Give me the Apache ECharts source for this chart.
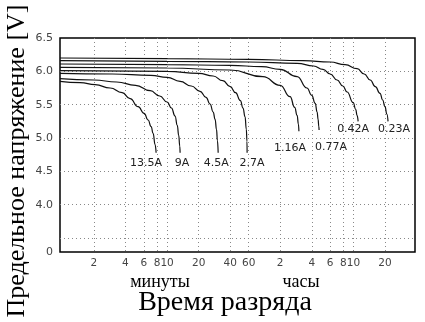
<!DOCTYPE html>
<html><head><meta charset="utf-8">
<script src="https://cdn.jsdelivr.net/npm/echarts@6/dist/echarts.min.js"></script>
<style>html,body{margin:0;padding:0;background:#fff}#c{width:425px;height:322px}</style>
</head><body><div id="c"></div>
<script>
// x: discharge time in minutes, y: cut-off voltage [V]
var curveNames = ['13.5A','9A','4.5A','2.7A','1.16A','0.77A','0.42A','0.23A'];
var c13_5A = [[0.95,5.85],[1.48,5.83],[2.06,5.80],[2.86,5.75],[3.72,5.68],[4.43,5.59],[5.29,5.47],[6.03,5.37],[6.59,5.27],[7.04,5.17],[7.35,5.07],[7.68,4.90],[7.85,4.78]];
var c9A = [[0.95,5.89],[2,5.87],[3.3,5.84],[5,5.79],[6.9,5.71],[8.5,5.63],[10,5.54],[11,5.45],[11.9,5.33],[12.5,5.19],[12.9,5.04],[13.2,4.88],[13.3,4.78]];
var c4_5A = [[0.95,5.97],[3,5.96],[7,5.94],[10,5.91],[13.3,5.85],[17,5.78],[20.6,5.70],[23.5,5.61],[25.7,5.51],[27.5,5.39],[28.7,5.28],[29.6,5.13],[30.2,4.96],[30.7,4.78]];
var c2_7A = [[0.95,6.01],[10,6.0],[20,5.97],[27.5,5.93],[34,5.86],[40,5.77],[45,5.68],[50,5.56],[53,5.45],[55.4,5.32],[57,5.13],[57.8,4.95],[58,4.78]];
var c1_16A = [[0.95,6.06],[10,6.05],[40,6.02],[82,5.92],[120,5.79],[149,5.62],[165,5.46],[174,5.34],[179,5.21],[181,5.10]];
var c0_77A = [[0.95,6.11],[10,6.10],[40,6.09],[80,6.07],[120,6.03],[174,5.92],[216,5.75],[240,5.64],[259,5.52],[270,5.39],[276,5.28],[280,5.18],[282,5.12]];
var c0_42A = [[0.95,6.16],[10,6.15],[60,6.14],[174,6.12],[250,6.08],[307,6.03],[360,5.96],[419,5.87],[475,5.78],[522,5.69],[597,5.53],[630,5.43],[650,5.34],[665,5.25]];
var c0_23A = [[0.95,6.2],[10,6.19],[60,6.18],[200,6.16],[359,6.14],[500,6.1],[650,6.04],[760,5.96],[867,5.87],[970,5.77],[1076,5.67],[1140,5.57],[1200,5.47],[1250,5.36],[1283,5.25]];
var curves = [c13_5A, c9A, c4_5A, c2_7A, c1_16A, c0_77A, c0_42A, c0_23A];

var xTickValues = [2,4,6,8,10,20,40,60,120,240,360,480,600,1200];
var xTickLabels = ['2','4','6','8','10','20','40','60','2','4','6','8','10','20'];
var yLabelValues = [3.29,4.0,4.5,5.0,5.5,6.0,6.5];
var yLabelTexts = ['0','4.0','4.5','5.0','5.5','6.0','6.5'];
var yGridValues = [3.5,4.0,4.5,5.0,5.5,6.0];

var labelOffsets = [[-10,10],[2,10],[-2,10],[5,10],[-9,17],[12,17],[-5,8],[6,8]];

var chart = echarts.init(document.getElementById('c'), null, {renderer:'canvas'});
var series = curves.map(function(d,i){
  var last = d[d.length-1];
  return {
    type:'line', name:curveNames[i], data:d, showSymbol:false, silent:true,
    smooth:0.5, smoothMonotone:'x',
    lineStyle:{color:'#111', width:1.2},
    markPoint:{
      symbol:'circle', symbolSize:0, silent:true, animation:false,
      data:[{coord:[last[0], last[1]], value:curveNames[i]}],
      label:{show:true, position:'inside', offset:labelOffsets[i], formatter:curveNames[i],
        fontFamily:'DejaVu Sans', fontSize:11, color:'#222'}
    }
  };
});

chart.setOption({
  animation:false,
  grid:{left:60, right:10, top:38, bottom:70, show:true, borderColor:'#000', borderWidth:1.5, backgroundColor:'transparent'},
  xAxis:{type:'log', min:0.95, max:2320, logBase:10,
    axisLine:{show:false}, axisTick:{show:false, customValues:xTickValues},
    axisLabel:{customValues:xTickValues, fontFamily:'DejaVu Sans', fontSize:10.5, color:'#444', margin:6,
      formatter:function(v){var i=xTickValues.indexOf(Math.round(v)); return i>=0?xTickLabels[i]:'';}},
    splitLine:{show:true, lineStyle:{color:'#888', type:[1,3], width:1}}
  },
  yAxis:{type:'value', min:3.29, max:6.5,
    axisLine:{show:false}, axisTick:{show:false, customValues:yGridValues},
    axisLabel:{customValues:yLabelValues, fontFamily:'DejaVu Sans', fontSize:11, color:'#444', margin:7,
      formatter:function(v){var i=-1; for(var k=0;k<yLabelValues.length;k++){if(Math.abs(yLabelValues[k]-v)<1e-6)i=k;} return i>=0?yLabelTexts[i]:'';}},
    splitLine:{show:true, lineStyle:{color:'#888', type:[1,3], width:1}}
  },
  graphic:[
    {type:'text', x:17, y:161, rotation:Math.PI/2, style:{text:'Предельное напряжение [V]', fontFamily:'Liberation Serif', fontSize:26, fill:'#000', textAlign:'center', textVerticalAlign:'middle'}},
    {type:'text', x:160, y:282, style:{text:'минуты', fontFamily:'Liberation Serif', fontSize:18, fill:'#000', textAlign:'center', textVerticalAlign:'middle'}},
    {type:'text', x:301, y:282, style:{text:'часы', fontFamily:'Liberation Serif', fontSize:18, fill:'#000', textAlign:'center', textVerticalAlign:'middle'}},
    {type:'text', x:225, y:303, style:{text:'Время разряда', fontFamily:'Liberation Serif', fontSize:28, fill:'#000', textAlign:'center', textVerticalAlign:'middle'}}
  ],
  series:series
});
</script></body></html>
